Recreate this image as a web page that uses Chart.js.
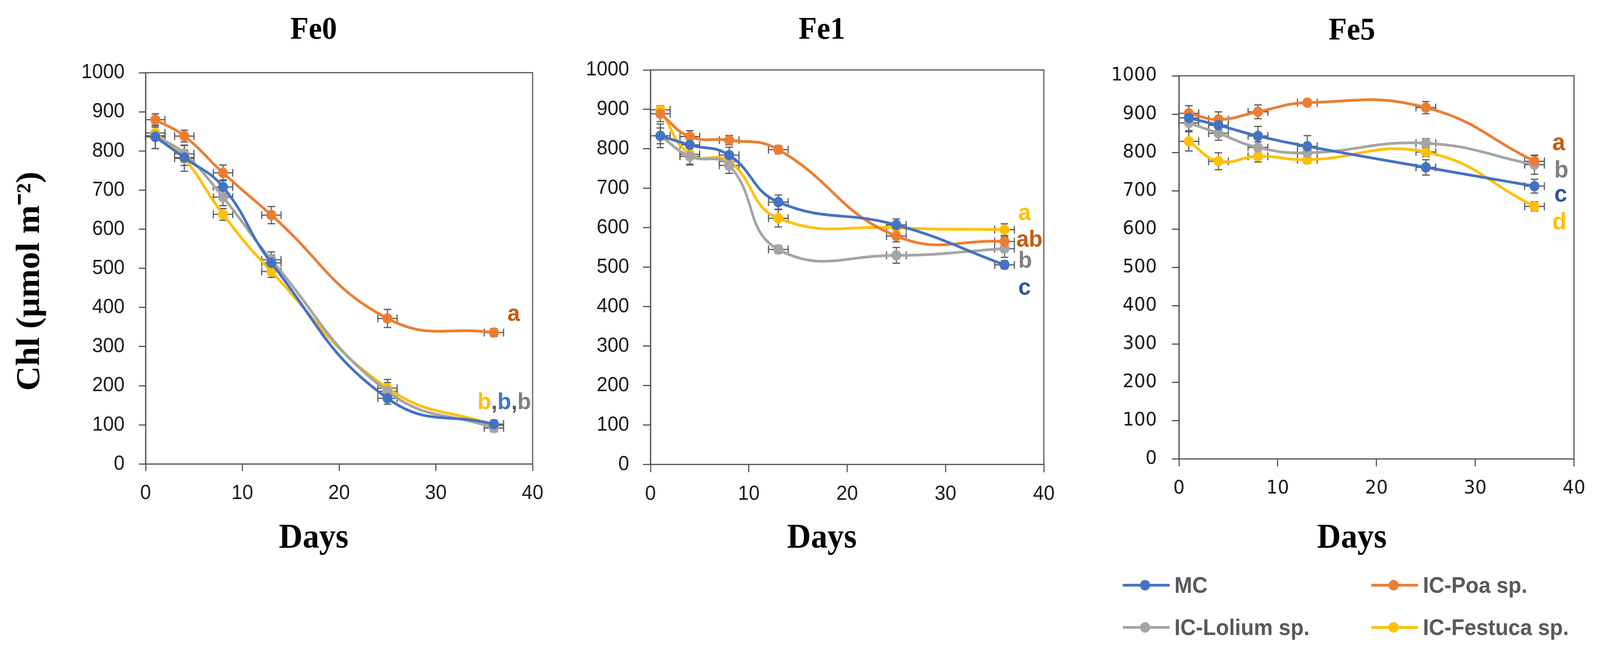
<!DOCTYPE html>
<html><head><meta charset="utf-8">
<script src="https://cdn.jsdelivr.net/npm/chart.js@4.4.1/dist/chart.umd.min.js"></script>
<style>
html,body{margin:0;padding:0;overflow:hidden;background:#fff;}
#wrap{position:absolute;left:0;top:0;width:4275px;height:1671px;transform-origin:0 0;background:#fff;overflow:hidden;}
canvas{position:absolute;top:0;}
.li{position:absolute;display:flex;align-items:center;height:60px;font-family:"Liberation Sans",sans-serif;font-weight:bold;font-size:57px;color:#595959;white-space:nowrap;}
.sw{position:relative;width:125px;height:7px;margin-right:13px;}
.sw i{position:absolute;left:46px;top:-10px;width:27px;height:27px;border-radius:50%;}
</style></head><body>
<div id="wrap">
<canvas id="c0" width="1676" height="1441" style="left:0px"></canvas>
<canvas id="c1" width="1296" height="1441" style="left:1548px"></canvas>
<canvas id="c2" width="1304" height="1441" style="left:2960px"></canvas>
<div id="legend"></div>
</div>
<script>
// fit the 4275x1671 design into whatever viewport the browser really has
(function () {
  const sx = (window.innerWidth || 4275) / 4275, sy = (window.innerHeight || 1671) / 1671;
  document.getElementById('wrap').style.transform = 'scale(' + sx + ',' + sy + ')';
})();

// ---------- data ----------
const days = [1, 4, 8, 13, 25, 36];
const dayErr = [1, 1, 1, 1, 1, 1];
const seriesNames = ['MC', 'IC-Poa sp.', 'IC-Lolium sp.', 'IC-Festuca sp.'];
const seriesColors = ['#4472C4', '#ED7D31', '#A5A5A5', '#FFC000'];
const panelTitles = ['Fe0', 'Fe1', 'Fe5'];
const xTickValues = [0, 10, 20, 30, 40];
const yTickValues = [0, 100, 200, 300, 400, 500, 600, 700, 800, 900, 1000];
const xAxisTitle = 'Days';
const yAxisTitle = 'Chl (μmol m⁻²)\u00A0\u00A0\u00A0';

// Fe0
const fe0MC      = [836, 783, 708, 514, 168, 102];
const fe0Poa     = [880, 838, 744, 636, 372, 336];
const fe0Lolium  = [839, 793, 682, 522, 186, 92];
const fe0Festuca = [846, 781, 638, 492, 194, 99];
const fe0MCErr      = [30, 20, 18, 20, 15, 10];
const fe0PoaErr     = [15, 15, 20, 22, 23, 10];
const fe0LoliumErr  = [33, 22, 22, 20, 22, 10];
const fe0FestucaErr = [15, 33, 15, 15, 22, 10];

// Fe1
const fe1MC      = [833, 810, 784, 665, 607, 506];
const fe1Poa     = [889, 831, 822, 798, 579, 565];
const fe1Lolium  = [833, 781, 758, 545, 530, 547];
const fe1Festuca = [899, 786, 768, 624, 600, 595];
const fe1MCErr      = [20, 15, 20, 18, 15, 10];
const fe1PoaErr     = [20, 15, 12, 10, 15, 12];
const fe1LoliumErr  = [30, 22, 20, 10, 20, 22];
const fe1FestucaErr = [10, 25, 20, 22, 15, 15];

// Fe5
const fe5MC      = [890, 871, 843, 816, 761, 712];
const fe5Poa     = [902, 886, 906, 930, 917, 777];
const fe5Lolium  = [877, 850, 813, 799, 824, 768];
const fe5Festuca = [829, 777, 790, 781, 801, 659];
const fe5MCErr      = [15, 15, 25, 28, 20, 18];
const fe5PoaErr     = [20, 20, 18, 8, 16, 15];
const fe5LoliumErr  = [20, 18, 15, 15, 12, 25];
const fe5FestucaErr = [25, 22, 15, 10, 12, 12];

// significance letters: [day, value, [[text, colour], ...]]
const fe0Letters = [
  [37.4, 366, [['a', '#C55A11']]],
  [34.3, 140, [['b', '#FFC000'], [',', '#595959'], ['b', '#4472C4'], [',', '#595959'], ['b', '#7F7F7F']]]
];
const fe1Letters = [
  [37.4, 620, [['a', '#FFC000']]],
  [37.2, 552, [['ab', '#C55A11']]],
  [37.4, 499, [['b', '#7F7F7F']]],
  [37.4, 430, [['c', '#2F5597']]]
];
const fe5Letters = [
  [37.8, 806, [['a', '#C55A11']]],
  [38.0, 735, [['b', '#7F7F7F']]],
  [38.0, 672, [['c', '#2F5597']]],
  [37.8, 599, [['d', '#FFC000']]]
];

// ---------- plugins ----------
const errorBars = {
  id: 'errorBars',
  beforeDatasetsDraw(chart) {
    const {ctx} = chart, x = chart.scales.x, y = chart.scales.y;
    ctx.save();
    ctx.strokeStyle = '#595959';
    ctx.lineWidth = 3;
    const cap = 10;
    chart.data.datasets.forEach(ds => {
      ds.data.forEach((p, i) => {
        const px = x.getPixelForValue(p.x), py = y.getPixelForValue(p.y);
        const yt = y.getPixelForValue(p.y + ds.yErr[i]), yb = y.getPixelForValue(p.y - ds.yErr[i]);
        const xl = x.getPixelForValue(p.x - ds.xErr[i]), xr = x.getPixelForValue(p.x + ds.xErr[i]);
        ctx.beginPath();
        ctx.moveTo(px, yt); ctx.lineTo(px, yb);
        ctx.moveTo(px - cap, yt); ctx.lineTo(px + cap, yt);
        ctx.moveTo(px - cap, yb); ctx.lineTo(px + cap, yb);
        ctx.moveTo(xl, py); ctx.lineTo(xr, py);
        ctx.moveTo(xl, py - cap); ctx.lineTo(xl, py + cap);
        ctx.moveTo(xr, py - cap); ctx.lineTo(xr, py + cap);
        ctx.stroke();
      });
    });
    ctx.restore();
  }
};
const frame = {
  id: 'frame',
  beforeDatasetsDraw(chart) {
    const {ctx, chartArea: a} = chart;
    ctx.save();
    ctx.strokeStyle = '#555';
    ctx.lineWidth = 3;
    ctx.strokeRect(a.left, a.top, a.right - a.left, a.bottom - a.top);
    ctx.restore();
  }
};
const letters = {
  id: 'letters',
  afterDatasetsDraw(chart, args, opts) {
    const {ctx} = chart, x = chart.scales.x, y = chart.scales.y;
    ctx.save();
    ctx.font = 'bold ' + opts.size + 'px "Liberation Sans", sans-serif';
    ctx.textBaseline = 'alphabetic';
    ctx.textAlign = 'left';
    opts.items.forEach(([dx, vy, parts]) => {
      let px = x.getPixelForValue(dx);
      const py = y.getPixelForValue(vy);
      parts.forEach(([t, c]) => {
        ctx.fillStyle = c;
        ctx.fillText(t, px, py);
        px += ctx.measureText(t).width;
      });
    });
    ctx.restore();
  }
};

// ---------- chart builder ----------
function makeSeries(vals, errs) {
  return vals.map((v, k) => ({
    label: seriesNames[k],
    data: days.map((d, i) => ({x: d, y: v[i]})),
    yErr: errs[k],
    xErr: dayErr,
    borderColor: seriesColors[k],
    backgroundColor: seriesColors[k],
    pointBackgroundColor: seriesColors[k],
    pointBorderColor: seriesColors[k],
    borderWidth: 7,
    pointRadius: 13,
    pointBorderWidth: 1,
    tension: 0.45,
    fill: false
  }));
}

function makeChart(id, title, series, lay) {
  const tickFont = {family: lay.tickFamily, size: lay.tickSize};
  return new Chart(document.getElementById(id), {
    type: 'line',
    data: {datasets: series},
    plugins: [frame, errorBars, letters],
    options: {
      responsive: false,
      animation: false,
      devicePixelRatio: 1,
      layout: {padding: 0},
      events: [],
      plugins: {
        legend: {display: false},
        tooltip: {enabled: false},
        title: {display: true, text: title, color: '#000',
          font: {family: '"Liberation Serif", serif', size: 80, weight: 'bold', lineHeight: 1.2},
          padding: {top: lay.titleTop, bottom: lay.titleBottom}},
        subtitle: {display: true, position: 'bottom', text: xAxisTitle, color: '#000',
          font: {family: '"Liberation Serif", serif', size: 88, weight: 'bold', lineHeight: 1.2},
          padding: {top: 15, bottom: 10}},
        letters: {items: lay.letters, size: lay.letterSize}
      },
      scales: {
        x: {
          type: 'linear', min: xTickValues[0], max: xTickValues[xTickValues.length - 1],
          afterBuildTicks: s => { s.ticks = xTickValues.map(v => ({value: v})); },
          ticks: {font: tickFont, color: '#1a1a1a', padding: lay.xPad, callback: v => String(v)},
          grid: {display: true, drawOnChartArea: false, drawTicks: true, tickLength: lay.tick, color: '#555', lineWidth: 3},
          border: {display: true, color: '#555', width: 3},
          afterFit: s => { s.height = lay.xh; }
        },
        y: {
          type: 'linear', position: 'left', min: yTickValues[0], max: yTickValues[yTickValues.length - 1],
          afterBuildTicks: s => { s.ticks = yTickValues.map(v => ({value: v})); },
          ticks: {font: tickFont, color: '#1a1a1a', padding: lay.yPad, callback: v => String(v)},
          grid: {display: true, drawOnChartArea: false, drawTicks: true, tickLength: lay.tick, color: '#555', lineWidth: 3},
          border: {display: true, color: '#555', width: 3},
          title: {display: lay.showYTitle, text: yAxisTitle, color: '#000',
            font: {family: '"Liberation Serif", serif', size: 88, weight: 'bold', lineHeight: 1.2},
            padding: {top: 28, bottom: 0}},
          afterFit: s => { s.width = lay.yw; }
        },
        yr: {
          type: 'linear', position: 'right', display: true, min: 0, max: 1000,
          ticks: {display: false}, grid: {display: false}, border: {display: false},
          afterFit: s => { s.width = lay.rw; }
        }
      }
    }
  });
}

const sansTicks = '"Liberation Sans", sans-serif';
const verdTicks = '"DejaVu Sans", sans-serif';

makeChart('c0', panelTitles[0],
  makeSeries([fe0MC, fe0Poa, fe0Lolium, fe0Festuca], [fe0MCErr, fe0PoaErr, fe0LoliumErr, fe0FestucaErr]),
  {yw: 389, rw: 253, xh: 123, titleTop: 30, titleBottom: 60, tick: 18, xPad: 26, yPad: 38,
   tickFamily: sansTicks, tickSize: 52, showYTitle: true, letters: fe0Letters, letterSize: 60});
makeChart('c1', panelTitles[1],
  makeSeries([fe1MC, fe1Poa, fe1Lolium, fe1Festuca], [fe1MCErr, fe1PoaErr, fe1LoliumErr, fe1FestucaErr]),
  {yw: 190, rw: 55, xh: 122, titleTop: 30, titleBottom: 53, tick: 20, xPad: 25, yPad: 37,
   tickFamily: sansTicks, tickSize: 52, showYTitle: false, letters: fe1Letters, letterSize: 60});
makeChart('c2', panelTitles[2],
  makeSeries([fe5MC, fe5Poa, fe5Lolium, fe5Festuca], [fe5MCErr, fe5PoaErr, fe5LoliumErr, fe5FestucaErr]),
  {yw: 190, rw: 49, xh: 136, titleTop: 32, titleBottom: 66, tick: 19, xPad: 28, yPad: 40,
   tickFamily: verdTicks, tickSize: 48, showYTitle: false, letters: fe5Letters, letterSize: 62});

// ---------- legend (HTML) ----------
const legendPos = [[3000, 1467], [3664, 1467], [3000, 1575], [3664, 1575]];
const legendEl = document.getElementById('legend');
seriesNames.forEach((name, k) => {
  const item = document.createElement('div');
  item.className = 'li';
  item.style.left = legendPos[k][0] + 'px';
  item.style.top = legendPos[k][1] + 'px';
  const sw = document.createElement('span');
  sw.className = 'sw';
  sw.style.background = seriesColors[k];
  const dot = document.createElement('i');
  dot.style.background = seriesColors[k];
  sw.appendChild(dot);
  const txt = document.createElement('span');
  txt.textContent = name;
  item.appendChild(sw);
  item.appendChild(txt);
  legendEl.appendChild(item);
});
</script>
</body></html>
